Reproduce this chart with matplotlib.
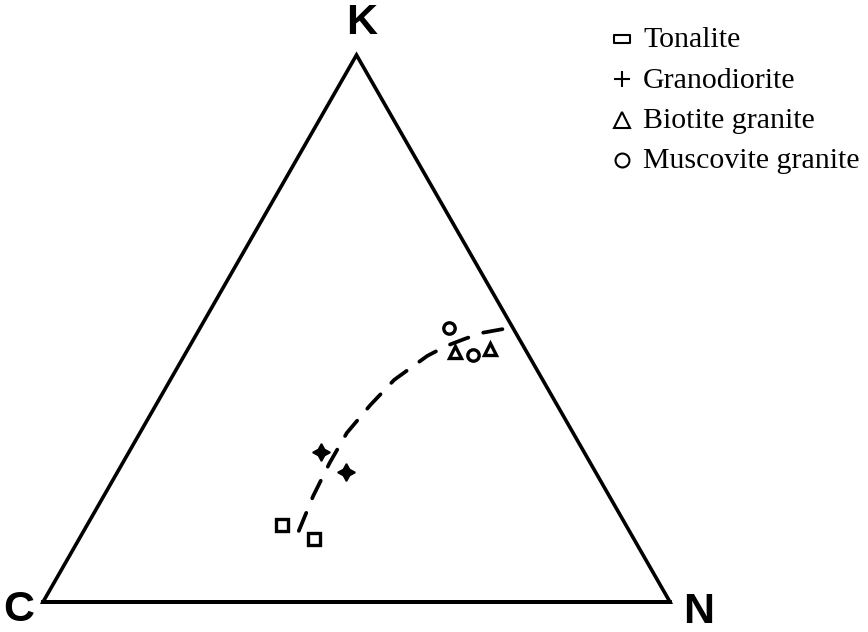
import numpy as np
import matplotlib
matplotlib.use("Agg")
import matplotlib.pyplot as plt
from matplotlib.path import Path

# Compositions in percent of K and N (C makes up the rest)
tonalite_k = [14.1, 11.5]
tonalite_n = [31.1, 37.5]
granodiorite_k = [27.4, 23.8]
granodiorite_n = [30.6, 36.4]
biotite_k = [45.7, 46.3]
biotite_n = [42.9, 48.2]
muscovite_k = [50.1, 45.2]
muscovite_n = [39.7, 46.0]

# Hand-drawn differentiation trend
trend_k = [13.0, 19.4, 25.4, 30.9, 36.0, 40.6, 45.0, 46.8, 48.1, 49.2, 50.1]
trend_n = [34.3, 33.4, 33.0, 33.0, 34.2, 35.7, 38.8, 40.9, 43.2, 45.4, 49.3]

vertex_labels = ["C", "N", "K"]
legend_labels = ["Tonalite", "Granodiorite", "Biotite granite", "Muscovite granite"]

H = np.sqrt(3) / 2


def to_xy(k, n):
    k = np.asarray(k, dtype=float) / 100.0
    n = np.asarray(n, dtype=float) / 100.0
    return n + k / 2.0, k * H


W, Hpx = 868, 632
fig = plt.figure(figsize=(W / 100, Hpx / 100), dpi=100)
fig.patch.set_facecolor("white")

ax = fig.add_axes([43 / W, 30 / Hpx, 627 / W, 547 / Hpx])
ax.set_xlim(0, 1)
ax.set_ylim(0, H)
ax.axis("off")

# Triangle frame
ax.plot([0, 1, 0.5, 0, 1], [0, 0, H, 0, 0], color="black", lw=2.6,
        solid_joinstyle="miter", clip_on=False)

label_font = dict(family=["Liberation Sans Narrow", "Liberation Sans", "DejaVu Sans"],
                  fontsize=31, fontweight="bold", fontstretch="condensed")
vertices = [(0, 0), (1, 0), (0.5, H)]
offsets = [(-24, -8), (29, -10), (5, 32)]
for lab, v, off in zip(vertex_labels, vertices, offsets):
    ax.annotate(lab, xy=v, xytext=off, textcoords="offset pixels",
                ha="center", va="center", **label_font)

# Trend line
tx, ty = to_xy(trend_k, trend_n)
ax.plot(tx, ty, color="black", lw=2.7, linestyle=(0, (5.2, 4.2)),
        dash_capstyle="round", clip_on=False)

mk = dict(color="black", linestyle="none", clip_on=False)
x, y = to_xy(tonalite_k, tonalite_n)
ax.plot(x, y, marker="s", ms=8.2, mew=2.4, mfc="white", mec="black", **mk)
x, y = to_xy(granodiorite_k, granodiorite_n)
ax.plot(x, y, marker=(4, 1, 0), ms=12.5, mew=1.2, mfc="black", mec="black", **mk)
x, y = to_xy(biotite_k, biotite_n)
ax.plot(x, y, marker="^", ms=8.5, mew=2.4, mfc="white", mec="black", **mk)
x, y = to_xy(muscovite_k, muscovite_n)
ax.plot(x, y, marker="o", ms=8.2, mew=2.4, mfc="white", mec="black", **mk)

# Key in the upper right, laid out in pixel units
lax = fig.add_axes([0, 0, 1, 1])
lax.set_xlim(0, W)
lax.set_ylim(Hpx, 0)
lax.axis("off")
lax.patch.set_alpha(0)

flat_rect = Path([(-1, -0.45), (1, -0.45), (1, 0.45), (-1, 0.45), (-1, -0.45)],
                 [Path.MOVETO, Path.LINETO, Path.LINETO, Path.LINETO, Path.CLOSEPOLY])
key_markers = [(flat_rect, 12), ("+", 11), ("^", 11), ("o", 10)]
key_rows = [39, 79, 120, 160]
key_base = [47, 88, 128, 168]
for (m, s), yc, yb, lab in zip(key_markers, key_rows, key_base, legend_labels):
    lax.plot([622], [yc], marker=m, ms=s, mew=1.5, mfc="none", mec="black",
             linestyle="none")
    lax.text(643, yb, lab, ha="left", va="baseline",
             family=["Liberation Serif", "DejaVu Serif"], fontsize=21.5)

fig.savefig("out.png", dpi=100, facecolor="white")
